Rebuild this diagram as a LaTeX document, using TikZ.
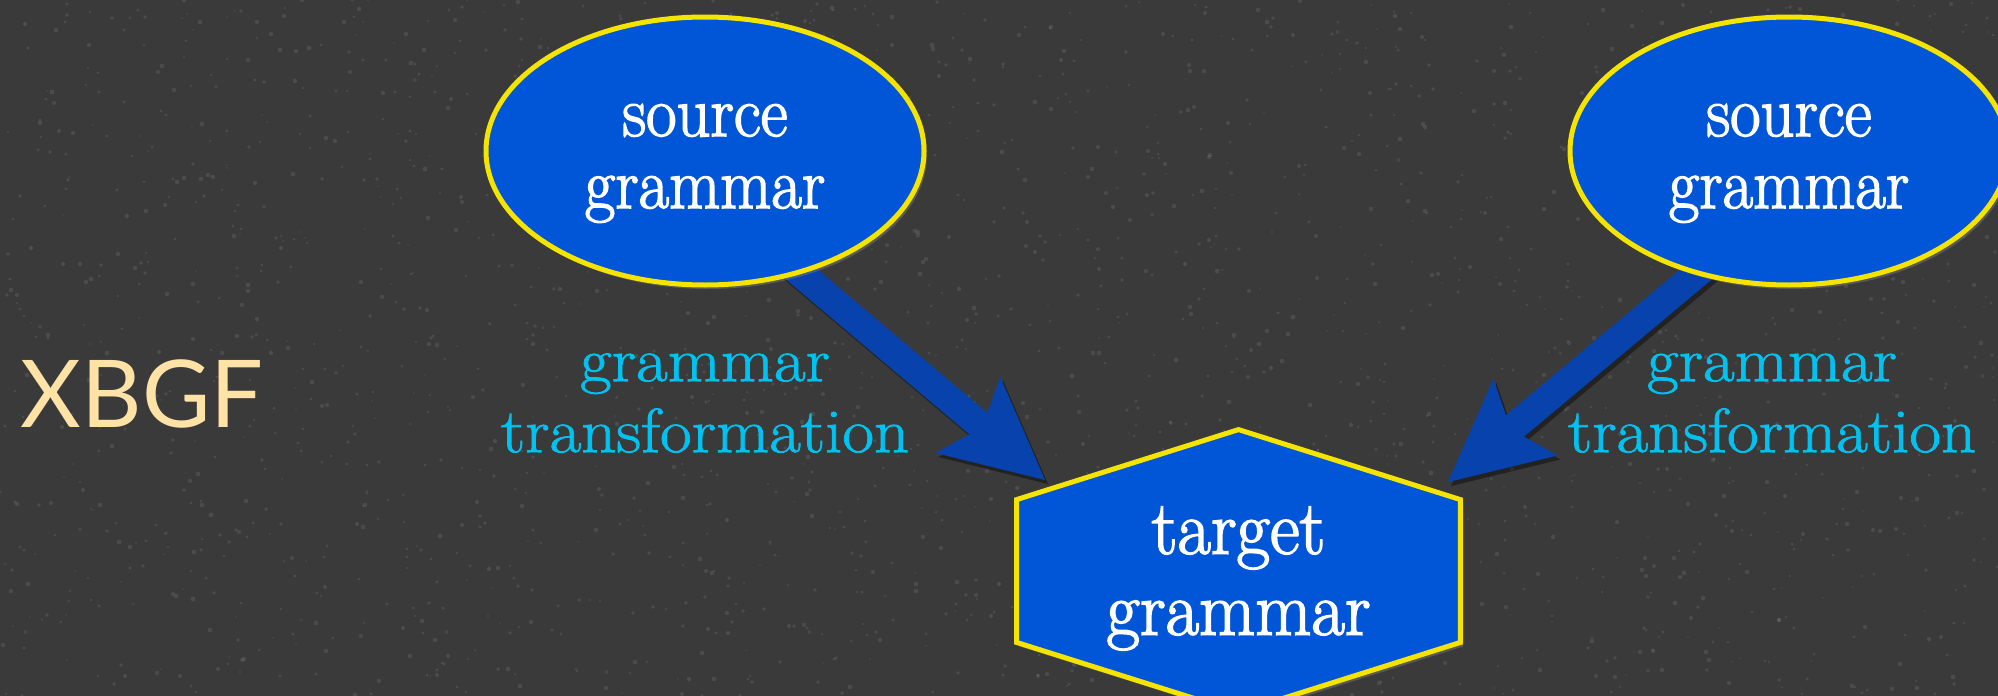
\documentclass[tikz,border=0pt]{standalone}
\usepackage{fontspec}
\newfontfamily\nodefont{Latin Modern Roman}[FakeStretch=0.92,FakeBold=2]
\newfontfamily\tgfont{Latin Modern Roman}[FakeStretch=0.95,FakeBold=2]
\newfontfamily\labelfont{Latin Modern Roman}[FakeStretch=1.1,FakeBold=1.2]
\newfontfamily\xbgffont{Lato}
\usetikzlibrary{arrows.meta,shadows,shapes.geometric,calc}
\definecolor{bgc}{RGB}{58,58,58}
\definecolor{nodeblue}{RGB}{0,86,214}
\definecolor{arrowblue}{RGB}{8,66,172}
\definecolor{rimyellow}{RGB}{245,228,0}
\definecolor{labelcyan}{RGB}{0,194,240}
\definecolor{titletan}{RGB}{254,226,166}
\pgfdeclarelayer{back}
\pgfdeclarelayer{links}
\pgfsetlayers{back,links,main}
\begin{document}
\begin{tikzpicture}[x=0.5pt,y=-0.5pt,
  srcshape/.style={ellipse, draw=rimyellow, line width=2.5pt, fill=nodeblue,
    minimum width=219pt, minimum height=134pt, inner sep=0pt,
    drop shadow={shadow xshift=1.5pt, shadow yshift=-2pt, opacity=0.45}},
  tgbox/.style={rectangle, minimum width=221.5pt, minimum height=141pt, inner sep=0pt},
  hexline/.style={draw=rimyellow, line width=2.5pt, fill=nodeblue, line join=miter,
    drop shadow={shadow xshift=1.5pt, shadow yshift=-2pt, opacity=0.45}},
  srctext/.style={font=\nodefont\fontsize{36pt}{36pt}\selectfont, text=white, align=center, inner sep=0pt},
  tgtext/.style={font=\tgfont\fontsize{38.3pt}{40.5pt}\selectfont, text=white, align=center, inner sep=0pt},
  labeltext/.style={font=\labelfont\fontsize{31.3pt}{35.5pt}\selectfont, text=labelcyan, align=center, inner sep=0pt},
  titletext/.style={font=\xbgffont\fontsize{46.8pt}{50pt}\selectfont, text=titletan, inner sep=0pt},
  linktip/.style={-{Stealth[length=50.5pt,width=50pt,inset=9.5pt,line width=0pt]}},
  link/.style={linktip, draw=arrowblue, fill=arrowblue, line width=14pt},
  linkshadow/.style={linktip, draw=black, fill=black, line width=14pt, opacity=0.4,
    transform canvas={xshift=1.5pt,yshift=-2pt}},
  speck/.style={fill=white, opacity=0.09}
]
\useasboundingbox (0,0) rectangle (1998,696);
\begin{pgfonlayer}{back}
  \fill[bgc] (0,0) rectangle (1998,696);
  \pgfmathsetseed{7}
  \foreach \i in {1,...,2200}{
    \pgfmathsetmacro{\sx}{random(0,1998)}
    \pgfmathsetmacro{\sy}{random(0,696)}
    \pgfmathsetmacro{\sr}{0.4+rnd*0.8}
    \fill[speck] (\sx,\sy) circle[radius=\sr pt];
  }
\end{pgfonlayer}

% title
\node[titletext, anchor=base] (title) at (142,427) {XBGF};

% source grammars
\node[srcshape] (ls) at (705,151) {};
\node[srctext] (lstext) at ($(ls)+(0,12.5)$) {source\\grammar};
\node[srcshape] (rs) at (1789,151) {};
\node[srctext] (rstext) at ($(rs)+(0,12.5)$) {source\\grammar};

% target grammar (hexagon)
\node[tgbox] (tg) at (1238.5,571) {};
\path[hexline] (tg.north) -- ($(tg.north east)+(0,70)$) -- ($(tg.south east)+(0,-70)$)
  -- (tg.south) -- ($(tg.south west)+(0,-70)$) -- ($(tg.north west)+(0,70)$) -- cycle;
\node[tgtext] (tgtext) at ($(tg)+(0,7.5)$) {target\\grammar};

% transformation labels
\node[labeltext] (ll) at (705,403) {grammar\\transformation};
\node[labeltext] (rl) at (1772,403) {grammar\\transformation};

% arrows
\coordinate (lsA) at (755,235);
\coordinate (tipL) at (1045,480);
\coordinate (rsA) at (1739.5,238);
\coordinate (tipR) at (1448,482);
\begin{pgfonlayer}{links}
  \draw[linkshadow] (lsA) -- (tipL);
  \draw[linkshadow] (rsA) -- (tipR);
  \draw[link] (lsA) -- (tipL);
  \draw[link] (rsA) -- (tipR);
\end{pgfonlayer}
\end{tikzpicture}
\end{document}
